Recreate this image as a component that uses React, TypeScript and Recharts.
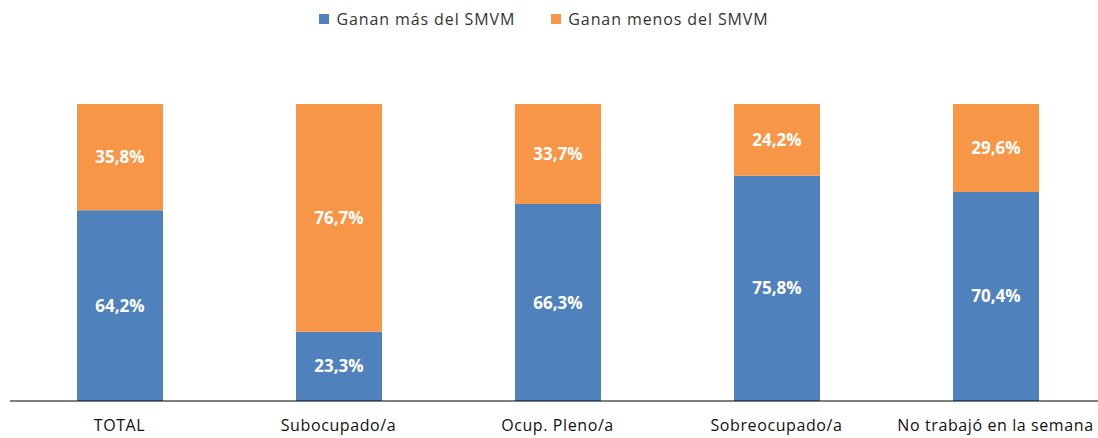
import React from 'react'
import { BarChart, Bar, XAxis, YAxis, LabelList } from 'recharts'

const categories = ['TOTAL', 'Subocupado/a', 'Ocup. Pleno/a', 'Sobreocupado/a', 'No trabajó en la semana']
const ganaMas = [64.2, 23.3, 66.3, 75.8, 70.4]
const ganaMenos = [35.8, 76.7, 33.7, 24.2, 29.6]

const BLUE = '#4F81BD'
const ORANGE = '#F79646'
const FONT = '"Open Sans", sans-serif'

const data = categories.map((c, i) => ({ name: c, mas: ganaMas[i], menos: ganaMenos[i] }))

const fmt = (v: any) => `${Number(v).toFixed(1).replace('.', ',')}%`

function LegendBox() {
  const items = [
    { label: 'Ganan más del SMVM', color: BLUE },
    { label: 'Ganan menos del SMVM', color: ORANGE },
  ]
  return (
    <div style={{ position: 'absolute', top: 8, left: 0, width: 1088, display: 'flex', justifyContent: 'center', gap: 36, fontFamily: FONT, fontSize: 16, color: '#333', lineHeight: '22px' }}>
      {items.map((it) => (
        <div key={it.label} style={{ display: 'flex', alignItems: 'center' }}>
          <span style={{ width: 10, height: 10, background: it.color, display: 'inline-block', marginRight: 7 }} />
          <span style={{ letterSpacing: 0.9 }}>{it.label}</span>
        </div>
      ))}
    </div>
  )
}

export default function App() {
  return (
    <div style={{ position: 'absolute', left: 0, top: 0, width: 1098, height: 438, overflow: 'hidden', background: '#fff' }}>
      <BarChart
        width={1105}
        height={438}
        data={data}
        barSize={86}
        margin={{ top: 104, right: 0, left: 10, bottom: 0 }}
      >
        <YAxis hide domain={[0, 100]} />
        <XAxis
          dataKey="name"
          axisLine={{ stroke: '#000', strokeWidth: 1 }}
          tickLine={false}
          tickSize={0}
          tickMargin={19}
          height={37}
          interval={0}
          tick={{ fill: '#111', fontSize: 16, fontFamily: FONT, letterSpacing: 0.6 }}
        />
        <Bar dataKey="mas" stackId="a" fill={BLUE} isAnimationActive={false}>
          <LabelList dataKey="mas" position="center" fill="#fff" fontSize={17} fontWeight={700} fontFamily={FONT} formatter={fmt} />
        </Bar>
        <Bar dataKey="menos" stackId="a" fill={ORANGE} isAnimationActive={false}>
          <LabelList dataKey="menos" position="center" fill="#fff" fontSize={17} fontWeight={700} fontFamily={FONT} formatter={fmt} />
        </Bar>
      </BarChart>
      <LegendBox />
    </div>
  )
}
